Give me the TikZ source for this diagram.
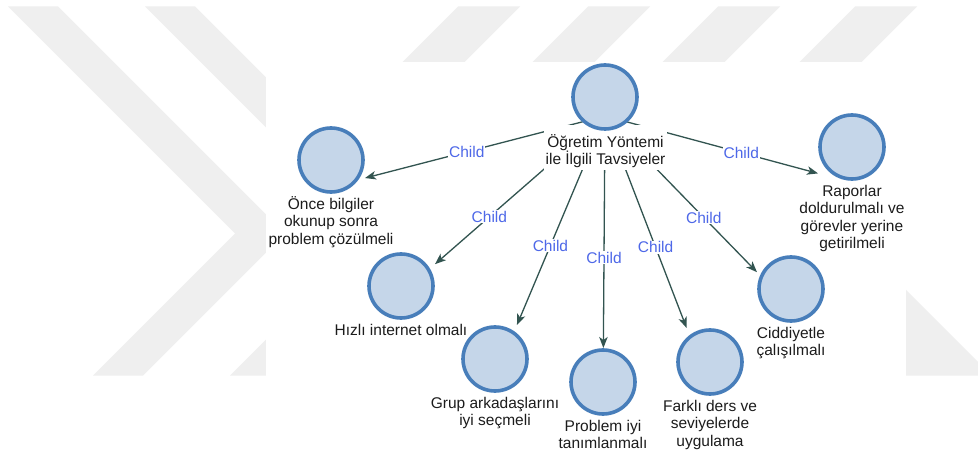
\documentclass[tikz,border=0pt]{standalone}
\usepackage{fontspec}
\setmainfont{Liberation Sans}
\usetikzlibrary{arrows.meta,fit}

\definecolor{wmgray}{RGB}{239,239,239}
\definecolor{nodefill}{RGB}{197,214,233}
\definecolor{noderim}{RGB}{72,126,186}
\definecolor{edgecol}{RGB}{50,84,80}
\definecolor{linkblue}{RGB}{78,104,232}
\definecolor{txt}{RGB}{28,28,28}

\pgfdeclarelayer{wm}
\pgfdeclarelayer{links}
\pgfsetlayers{wm,links,main}

\begin{document}
\begin{tikzpicture}[x=1pt,y=-1pt,
  concept/.style={circle, draw=noderim, fill=nodefill, line width=3.6pt,
    minimum size=64pt, inner sep=0pt, outer sep=2pt},
  caption/.style={anchor=north, align=center, inner sep=0pt, text=txt,
    font=\fontsize{15.5}{17.5}\selectfont, yshift=-1pt},
  rootcaption/.style={anchor=north, align=center, inner xsep=2pt, inner ysep=2pt,
    fill=white, text=txt, font=\fontsize{15.5}{17.5}\selectfont},
  hitbox/.style={inner sep=0pt, outer sep=0pt, draw=none},
  link/.style={draw=edgecol, line width=1.3pt,
    -{Stealth[length=11pt,width=8.5pt,inset=3pt]}},
  linklbl/.style={fill=white, inner sep=1pt, text=linkblue,
    font=\fontsize{15.5}{17.5}\selectfont},
]
\useasboundingbox (0,0) rectangle (978,457);

% faint chevron backdrop and the white panel of the map
\begin{pgfonlayer}{wm}
  \fill[white] (0,0) rectangle (978,457);
  \fill[wmgray] (8,6.5) -- (58,6.5) -- (285,233.5) -- (143,375.5) -- (93,375.5) -- (235,233.5) -- cycle;
  \fill[wmgray] (145,6.5) -- (195,6.5) -- (422,233.5) -- (280,375.5) -- (230,375.5) -- (372,233.5) -- cycle;
  \foreach \x in {458,588,718,855}
    \fill[wmgray] (\x,6.5) -- (\x+62,6.5) -- (\x+6.5,62) -- (\x-55.5,62) -- cycle;
  \fill[wmgray] (906,290) -- (978,362) -- (978,375.5) -- (906,375.5) -- cycle;
  \fill[white] (266,62) rectangle (906,457);
\end{pgfonlayer}

% central topic
\node[rootcaption] (topic-cap) at (605.5,125)
  {\rule{0pt}{20pt}Öğretim Yöntemi\\ile İlgili Tavsiyeler};
\node[concept] (topic) at (605,97) {};
\coordinate (hub) at (605,116);

% recommendations
\node[concept] (c1) at (331,160) {};
\node[caption] (c1-cap) at (c1.south) {\rule{0pt}{14pt}Önce bilgiler\\okunup sonra\\problem çözülmeli};
\node[hitbox, fit=(c1.north)(c1.east)(c1.west)(c1-cap.south)] (c1-box) {};

\node[concept] (c2) at (401,286) {};
\node[caption] (c2-cap) at (c2.south) {\rule{0pt}{14pt}Hızlı internet olmalı};
\node[hitbox, fit=(c2.north)(c2.east)(c2.west)(c2-cap.south)] (c2-box) {};

\node[concept] (c3) at (495,359) {};
\node[caption] (c3-cap) at (c3.south) {\rule{0pt}{14pt}Grup arkadaşlarını\\iyi seçmeli};
\node[hitbox, fit=(c3.north)(c3.east)(c3.west)(c3-cap.south)] (c3-box) {};

\node[concept] (c4) at (603,382) {};
\node[caption] (c4-cap) at (c4.south) {\rule{0pt}{14pt}Problem iyi\\tanımlanmalı};
\node[hitbox, fit=(c4.north)(c4.east)(c4.west)(c4-cap.south)] (c4-box) {};

\node[concept] (c5) at (710,362) {};
\node[caption] (c5-cap) at (c5.south) {\rule{0pt}{14pt}Farklı ders ve\\seviyelerde\\uygulama};
\node[hitbox, fit=(c5.north)(c5.east)(c5.west)(c5-cap.south)] (c5-box) {};

\node[concept] (c6) at (791,289) {};
\node[caption] (c6-cap) at (c6.south) {\rule{0pt}{14pt}Ciddiyetle\\çalışılmalı};
\node[hitbox, fit=(c6.north)(c6.east)(c6.west)(c6-cap.south)] (c6-box) {};

\node[concept] (c7) at (852,147) {};
\node[caption] (c7-cap) at (c7.south) {\rule{0pt}{14pt}Raporlar\\doldurulmalı ve\\görevler yerine\\getirilmeli};
\node[hitbox, fit=(c7.north)(c7.east)(c7.west)(c7-cap.south)] (c7-box) {};

% parent-child links
\begin{pgfonlayer}{links}
  \draw[link] (hub) -- node[linklbl, pos=.576] (e1) {Child} (c1-box);
  \draw[link] (hub) -- node[linklbl, pos=.68]  (e2) {Child} (c2-box);
  \draw[link] (hub) -- node[linklbl, pos=.62]  (e3) {Child} (c3-box);
  \draw[link] (hub) -- node[linklbl, pos=.61]  (e4) {Child} (c4-box);
  \draw[link] (hub) -- node[linklbl, pos=.62]  (e5) {Child} (c5-box);
  \draw[link] (hub) -- node[linklbl, pos=.65]  (e6) {Child} (c6-box);
  \draw[link] (hub) -- node[linklbl, pos=.64]  (e7) {Child} (c7-box);
\end{pgfonlayer}
\end{tikzpicture}
\end{document}
